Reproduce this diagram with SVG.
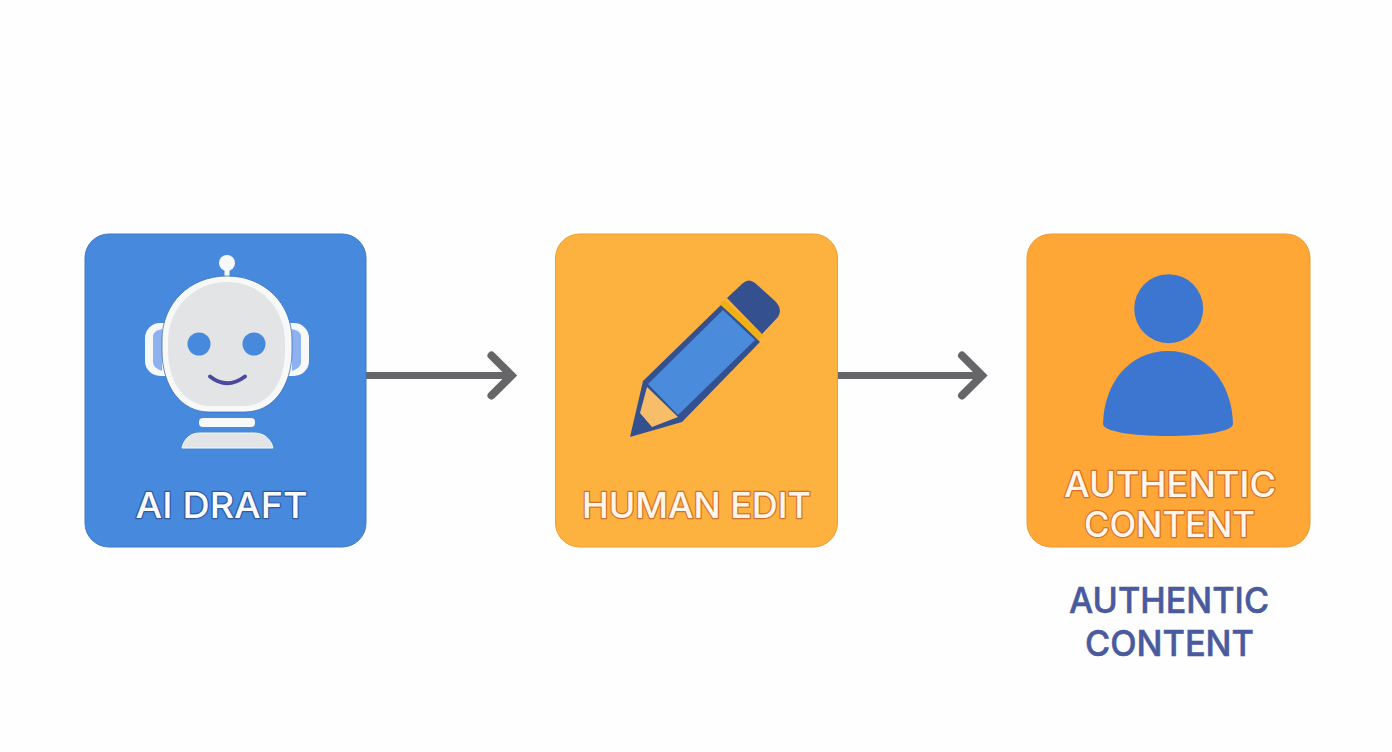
<svg xmlns="http://www.w3.org/2000/svg" width="1392" height="752" viewBox="0 0 1392 752">
<defs>
<marker id="head" markerUnits="userSpaceOnUse" markerWidth="40" markerHeight="60" refX="30" refY="30" orient="auto" overflow="visible">
<path d="M9 10 L29 30 L9 50" fill="none" stroke="#666668" stroke-width="8" stroke-linecap="round" stroke-linejoin="miter"/>
</marker>
</defs>
<style>
.card{stroke-width:1}
.lbl{font-family:"Inter","Open Sans","Liberation Sans",sans-serif;font-weight:500;font-size:36px;text-anchor:middle;paint-order:stroke;stroke-width:2.400;stroke-linejoin:round}
.tight{font-size:35px}
.w1{fill:#fbfcfe;stroke:#2f5a9e}
.w2{fill:#fff6ea;stroke:#d4702a}
.n{fill:#4a5a9e;stroke:#3a4a88;stroke-width:0.500;font-weight:500}
.conn{fill:none;stroke:#666668;stroke-width:7;marker-end:url(#head)}
.white{fill:#f7f8f8}
.gray{fill:#e2e4e5}
.ear{fill:#8eb1ef}
</style>
<rect width="1392" height="752" fill="#fefefe"/>
<g id="connectors">
<path class="conn" d="M366 375.500 H512.500"/>
<path class="conn" d="M838 375.500 H983"/>
</g>
<g id="ai-draft">
<rect class="card" x="85" y="234" width="281" height="313" rx="24" fill="#4789dc" stroke="#3f78c4"/>
<rect class="white" x="224.500" y="266" width="5" height="12"/>
<circle class="white" cx="227" cy="263" r="8"/>
<rect class="white" x="145" y="323" width="40" height="53" rx="15"/>
<rect class="white" x="269" y="323" width="40" height="53" rx="15"/>
<path class="ear" d="M153 336 Q153 331 162 329 V371 Q153 368 153 362Z"/>
<path class="ear" d="M301 336 Q301 331 292 329 V371 Q301 368 301 362Z"/>
<path class="white" d="M162 340 C162 303 190 276 227 276 C264 276 292 303 292 340 V350 C292 388 272 412 245 412 H209 C182 412 162 388 162 350Z" stroke="#3f6fb5" stroke-width="0.800"/>
<path class="gray" d="M168 342 C168 308 194 282 227 282 C260 282 285 308 285 342 V350 C285 384 268 406 243 406 H211 C186 406 168 384 168 350Z"/>
<circle cx="199" cy="344" r="11.500" fill="#4789dc"/>
<circle cx="254" cy="344" r="11.500" fill="#4789dc"/>
<path d="M210 376.500 Q227 390 245 376.500" fill="none" stroke="#4a4a9c" stroke-width="4" stroke-linecap="round"/>
<rect class="white" x="199" y="418" width="56" height="9" rx="4"/>
<path class="gray" d="M182 448 C184 439 190 433 200 433 H254 C264 433 271 439 273 448Z" stroke="#f7f8f8" stroke-width="1"/>
<text class="lbl w1" x="221.500" y="518" textLength="172" lengthAdjust="spacingAndGlyphs">AI DRAFT</text>
</g>
<g id="human-edit">
<rect class="card" x="555.500" y="234" width="282" height="313" rx="24" fill="#fdb13f" stroke="#eaa035"/>
<path d="M727 298 L743 283 Q749 278 755 283 L775 301 Q783 309 778 317 L762 334Z" fill="#34508f"/>
<path d="M722 304 L643 381 L630 437 L682 422 L760 342Z" fill="#34508f"/>
<path d="M723 310 L648 384 L678 415 L755 340Z" fill="#4a8bdc"/>
<path d="M647 387 L640 413 L652 427 L678 417Z" fill="#f8bd68"/>
<path d="M722 302 L761 338" stroke="#eeb012" stroke-width="6" fill="none"/>
<text class="lbl w2" x="696.500" y="518" textLength="229" lengthAdjust="spacingAndGlyphs">HUMAN EDIT</text>
</g>
<g id="authentic-content">
<rect class="card" x="1027" y="234" width="283" height="313" rx="24" fill="#fea636" stroke="#eb9b35"/>
<circle cx="1168.700" cy="308.700" r="34.500" fill="#3d76d1"/>
<path d="M1103 424 C1104 382 1130 351 1168 351 C1206 351 1232 382 1233 424 C1233 431 1206 436 1168 436 C1130 436 1103 431 1103 424Z" fill="#3d76d1"/>
<text class="lbl tight w2" x="1170" y="497" textLength="212" lengthAdjust="spacingAndGlyphs">AUTHENTIC</text>
<text class="lbl tight w2" x="1169.500" y="537" textLength="171" lengthAdjust="spacingAndGlyphs">CONTENT</text>
<text class="lbl n" x="1169" y="613" textLength="200" lengthAdjust="spacingAndGlyphs">AUTHENTIC</text>
<text class="lbl n" x="1169.500" y="656" textLength="169" lengthAdjust="spacingAndGlyphs">CONTENT</text>
</g>
</svg>
